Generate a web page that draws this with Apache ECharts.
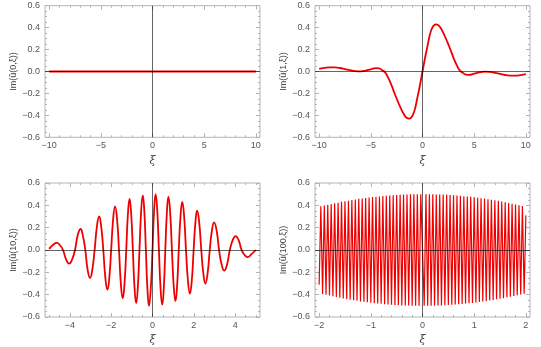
<!DOCTYPE html>
<html><head><meta charset="utf-8">
<script src="https://cdn.jsdelivr.net/npm/echarts@6/dist/echarts.min.js"></script>
<style>html,body{margin:0;padding:0;background:#fff}#c{width:541px;height:347px}</style>
</head><body><div id="c"></div><script>
// ---- titles / tick labels ----
const yNames = ['Im(\u00fb(0,\u03be))', 'Im(\u00fb(1,\u03be))', 'Im(\u00fb(10,\u03be))', 'Im(\u00fb(100,\u03be))'];
const xName = '\u03be';
const yMajor = [-0.6, -0.4, -0.2, 0, 0.2, 0.4, 0.6];
const yMinor = [-0.55,-0.5,-0.45,-0.35,-0.3,-0.25,-0.15,-0.1,-0.05,0.05,0.1,0.15,0.25,0.3,0.35,0.45,0.5,0.55];
const xMajor10 = [-10, -5, 0, 5, 10];
const xMinor10 = [-9,-8,-7,-6,-4,-3,-2,-1,1,2,3,4,6,7,8,9];
const xMajor5 = [-4, -2, 0, 2, 4];
const xMinor5 = [-5,-4.5,-3.5,-3,-2.5,-1.5,-1,-0.5,0.5,1,1.5,2.5,3,3.5,4.5,5];
const xMajor2 = [-2, -1, 0, 1, 2];
const xMinor2 = [-1.8,-1.6,-1.4,-1.2,-0.8,-0.6,-0.4,-0.2,0.2,0.4,0.6,0.8,1.2,1.4,1.6,1.8];

// ---- series values ----
const xi0 = [-10, -5, 0, 5, 10];
const im0 = [0, 0, 0, 0, 0];

const xi1 = [-10,-9.5,-9,-8.5,-8,-7.5,-7,-6.5,-6,-5.5,-5,-4.5,-4.2,-3.9,-3.6,-3.3,-3,-2.7,-2.4,-2.1,-1.8,-1.5,-1.3,-1.1,-0.9,-0.7,-0.5,-0.3,-0.1,0,
             0.1,0.3,0.5,0.7,0.9,1.1,1.3,1.5,1.8,2.1,2.4,2.7,3,3.3,3.6,3.9,4.2,4.5,5,5.5,6,6.5,7,7.5,8,8.5,9,9.5,10];
const im1 = [0.024,0.033,0.038,0.037,0.032,0.022,0.012,0.004,0.002,0.008,0.02,0.03,0.028,0.012,-0.01,-0.06,-0.125,-0.2,-0.27,-0.335,-0.39,-0.425,-0.43,-0.42,-0.39,-0.33,-0.24,-0.15,-0.05,0,
             0.05,0.15,0.24,0.33,0.39,0.42,0.43,0.425,0.39,0.335,0.27,0.2,0.125,0.06,0.01,-0.012,-0.028,-0.03,-0.02,-0.008,-0.002,-0.004,-0.012,-0.022,-0.032,-0.037,-0.038,-0.033,-0.024];

const xi10 = [-5.00,-4.82,-4.63,-4.48,-4.33,-4.18,-4.03,-3.89,-3.75,-3.62,-3.48,-3.37,-3.25,-3.14,-3.02,-2.91,-2.80,-2.69,-2.58,-2.48,
  -2.38,-2.28,-2.18,-2.09,-2.00,-1.905,-1.81,-1.715,-1.62,-1.53,-1.44,-1.355,-1.27,-1.19,-1.11,-1.03,-0.95,-0.87,-0.79,-0.71,
  -0.63,-0.55,-0.47,-0.395,-0.32,-0.245,-0.17,-0.085,0.00,0.075,0.15,0.23,0.31,0.39,0.47,0.545,0.62,0.695,0.77,0.855,
  0.94,1.025,1.11,1.19,1.27,1.355,1.44,1.53,1.62,1.715,1.81,1.90,1.99,2.075,2.16,2.26,2.36,2.46,2.56,2.665,
  2.77,2.875,2.98,3.10,3.22,3.345,3.47,3.605,3.74,3.88,4.02,4.165,4.31,4.455,4.60,4.80,5.00];
const im10 = [0.01,0.045,0.063,0.045,0,-0.085,-0.122,-0.085,0,0.13,0.188,0.13,0,-0.175,-0.25,-0.175,0,0.21,0.30,0.21,
  0,-0.25,-0.355,-0.25,0,0.275,0.39,0.275,0,-0.305,-0.433,-0.305,0,0.32,0.457,0.32,0,-0.335,-0.475,-0.335,
  0,0.345,0.49,0.345,0,-0.35,-0.5,-0.35,0,0.35,0.5,0.35,0,-0.345,-0.49,-0.345,0,0.335,0.477,0.335,
  0,-0.32,-0.457,-0.32,0,0.30,0.43,0.30,0,-0.275,-0.39,-0.275,0,0.245,0.352,0.245,0,-0.21,-0.30,-0.21,
  0,0.175,0.248,0.175,0,-0.13,-0.185,-0.13,0,0.088,0.125,0.088,0,-0.045,-0.063,-0.035,0];

const xi100 = [-2.000,-1.967,-1.933,-1.900,-1.867,-1.833,-1.800,-1.767,-1.733,-1.700,-1.667,-1.633,-1.600,-1.567,-1.533,-1.500,-1.467,-1.433,-1.400,-1.367,
  -1.333,-1.300,-1.267,-1.233,-1.200,-1.167,-1.133,-1.100,-1.067,-1.033,-1.000,-0.967,-0.933,-0.900,-0.867,-0.833,-0.800,-0.767,-0.733,-0.700,
  -0.667,-0.633,-0.600,-0.567,-0.533,-0.500,-0.467,-0.433,-0.400,-0.367,-0.333,-0.300,-0.267,-0.233,-0.200,-0.167,-0.133,-0.100,-0.067,-0.033,
  0.000,0.033,0.067,0.100,0.133,0.167,0.200,0.233,0.267,0.300,0.333,0.367,0.400,0.433,0.467,0.500,0.533,0.567,0.600,0.633,
  0.667,0.700,0.733,0.767,0.800,0.833,0.867,0.900,0.933,0.967,1.000,1.033,1.067,1.100,1.133,1.167,1.200,1.233,1.267,1.300,
  1.333,1.367,1.400,1.433,1.467,1.500,1.533,1.567,1.600,1.633,1.667,1.700,1.733,1.767,1.800,1.833,1.867,1.900,1.933,1.967,2.000];
const im100 = [-0.31,0.392,-0.395,0.398,-0.401,0.405,-0.408,0.411,-0.414,0.418,-0.421,0.424,-0.428,0.431,-0.434,0.437,-0.440,0.442,-0.445,0.448,
  -0.450,0.453,-0.455,0.458,-0.460,0.462,-0.464,0.466,-0.468,0.470,-0.472,0.474,-0.476,0.477,-0.479,0.480,-0.482,0.483,-0.485,0.486,
  -0.488,0.489,-0.490,0.491,-0.492,0.493,-0.494,0.495,-0.496,0.496,-0.497,0.498,-0.498,0.499,-0.499,0.499,-0.500,0.500,-0.500,0.500,
  0.000,-0.500,0.500,-0.500,0.500,-0.499,0.499,-0.499,0.498,-0.498,0.497,-0.496,0.496,-0.495,0.494,-0.493,0.492,-0.491,0.490,-0.489,
  0.488,-0.486,0.485,-0.483,0.482,-0.480,0.479,-0.477,0.476,-0.474,0.472,-0.470,0.468,-0.466,0.464,-0.462,0.460,-0.458,0.455,-0.453,
  0.450,-0.448,0.445,-0.442,0.440,-0.437,0.434,-0.431,0.428,-0.424,0.421,-0.418,0.414,-0.411,0.408,-0.405,0.401,-0.398,0.395,-0.392,0.31];

// ---- styling ----
const FONT = '"Liberation Sans", Arial, sans-serif';
const FRAME = '#b4b4b4';
const LABEL = '#555555';
const RED = '#ee0000';
const fmt = d => v => (d ? Number(v).toFixed(d) : String(v)).replace('-', '\u2212');

const panels = [
  {rect:[45,5.7,215,131.6], xr:[-10.4,10.4], xMaj:xMajor10, xMin:xMinor10, x:xi0, y:im0, smooth:false, w:1.8},
  {rect:[315,5.7,215,131.6], xr:[-10.4,10.4], xMaj:xMajor10, xMin:xMinor10, x:xi1, y:im1, smooth:0.5, w:1.8},
  {rect:[45,183,215,135], xr:[-5.2,5.2], xMaj:xMajor5, xMin:xMinor5, x:xi10, y:im10, smooth:0.5, w:1.8},
  {rect:[315,183,215,135], xr:[-2.08,2.08], xMaj:xMajor2, xMin:xMinor2, x:xi100, y:im100, smooth:false, w:1.2}
];

const grid = [], xAxis = [], yAxis = [], series = [];
panels.forEach((p, i) => {
  grid.push({left:p.rect[0], top:p.rect[1], width:p.rect[2], height:p.rect[3], show:true,
    borderColor:FRAME, borderWidth:1, backgroundColor:'transparent'});
  const xb = xAxis.length, yb = yAxis.length;
  const mkX = (pos, vals, len, main) => ({
    gridIndex:i, type:'value', position:pos, min:p.xr[0], max:p.xr[1],
    axisLine:{show:false, onZero:false}, splitLine:{show:false}, minorTick:{show:false},
    axisTick:{show:true, inside:true, length:len, customValues:vals, lineStyle:{color:FRAME, width:1}},
    axisLabel: main ? {show:true, customValues:vals, formatter:fmt(0), margin:4, fontSize:9, color:LABEL, fontFamily:FONT} : {show:false},
    name: main ? xName : '', nameLocation:'middle', nameGap:18,
    nameTextStyle:{fontSize:11, color:'#444', fontFamily:'"DejaVu Serif", serif', fontStyle:'italic'}
  });
  const mkY = (pos, vals, len, main) => ({
    gridIndex:i, type:'value', position:pos, min:-0.6, max:0.6,
    axisLine:{show:false, onZero:false}, splitLine:{show:false}, minorTick:{show:false},
    axisTick:{show:true, inside:true, length:len, customValues:vals, lineStyle:{color:FRAME, width:1}},
    axisLabel: main ? {show:true, customValues:vals, formatter:fmt(1), margin:5, fontSize:9, color:LABEL, fontFamily:FONT} : {show:false},
    name: main ? yNames[i] : '', nameLocation:'middle', nameGap:22,
    nameTextStyle:{fontSize:9, color:'#444', fontFamily:FONT}
  });
  xAxis.push(mkX('bottom', p.xMaj, 4, true), mkX('bottom', p.xMin, 2, false),
             mkX('top', p.xMaj, 4, false), mkX('top', p.xMin, 2, false));
  yAxis.push(mkY('left', yMajor, 4, true), mkY('left', yMinor, 2, false),
             mkY('right', yMajor, 4, false), mkY('right', yMinor, 2, false));
  series.push({
    type:'line', xAxisIndex:xb, yAxisIndex:yb,
    data: p.x.map((v, k) => [v, p.y[k]]),
    showSymbol:false, symbol:'none', smooth:p.smooth,
    lineStyle:{color:RED, width:p.w}, itemStyle:{color:RED},
    emphasis:{disabled:true}, animation:false, clip:true,
    markLine:{silent:true, symbol:['none','none'], label:{show:false}, animation:false,
      lineStyle:{color:'rgba(0,0,0,0.6)', width:1, type:'solid'},
      emphasis:{disabled:true},
      data:[{xAxis:0}, {yAxis:0}]}
  });
});

const chart = echarts.init(document.getElementById('c'), null, {renderer:'canvas'});
chart.setOption({animation:false, backgroundColor:'#fff', grid, xAxis, yAxis, series});
</script></body></html>
